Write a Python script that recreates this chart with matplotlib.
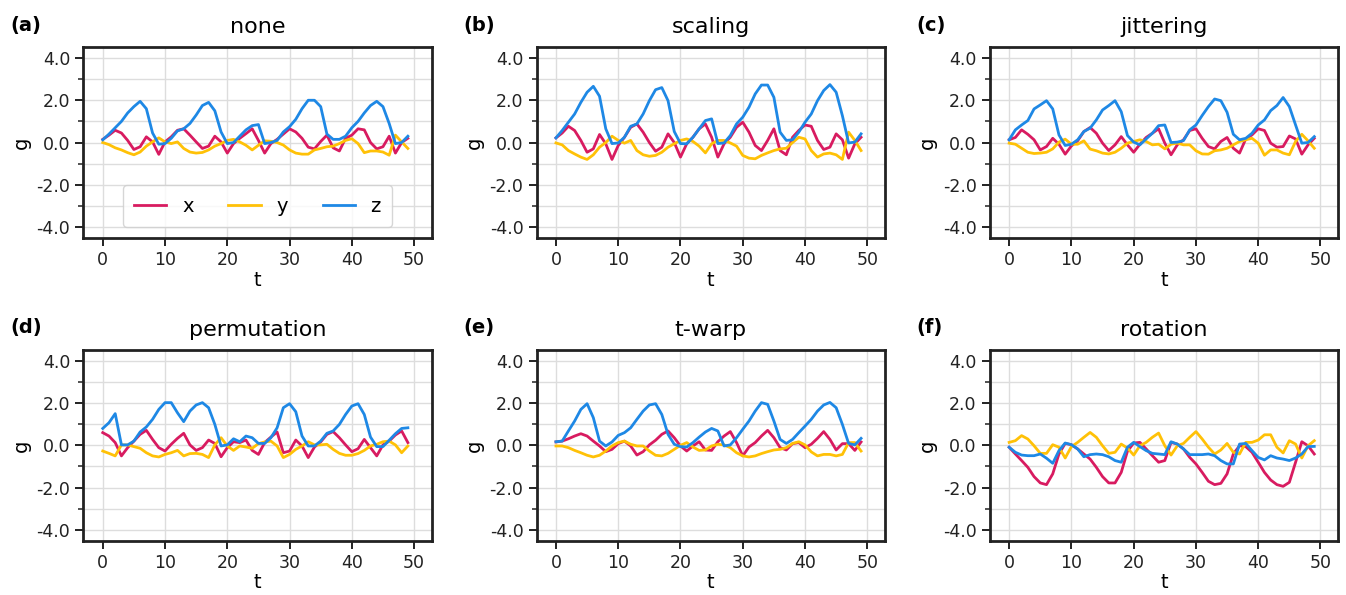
import numpy as np
import matplotlib
matplotlib.use("Agg")
import matplotlib.pyplot as plt
from matplotlib.ticker import MultipleLocator, FormatStrFormatter

t = np.arange(50)

titles = ["none", "scaling", "jittering", "permutation", "t-warp", "rotation"]
letters = ["(a)", "(b)", "(c)", "(d)", "(e)", "(f)"]

# (a) none
none_x = [0.15, 0.35, 0.58, 0.45, 0.1, -0.33, -0.2, 0.27, 0.03, -0.56, 0.03, 0.27, 0.58, 0.65, 0.35, 0.03, -0.28, -0.17, 0.3, 0.03,
          -0.5, -0.05, 0.2, 0.42, 0.65, 0.1, -0.5, -0.05, 0.15, 0.4, 0.65, 0.5, 0.2, -0.22, -0.3, 0.05, 0.35, -0.25, -0.4, 0.2,
          0.35, 0.65, 0.6, 0.0, -0.3, -0.2, 0.3, -0.5, 0.0, 0.2]
none_y = [0.0, -0.1, -0.25, -0.35, -0.48, -0.58, -0.45, -0.17, 0.03, 0.22, 0.03, -0.05, 0.03, -0.28, -0.45, -0.5, -0.47, -0.35, -0.17, -0.05,
          0.1, 0.15, 0.03, -0.13, -0.35, -0.13, 0.08, 0.06, 0.0, -0.12, -0.35, -0.5, -0.55, -0.55, -0.35, -0.28, -0.2, -0.17, -0.05, 0.1,
          0.18, -0.05, -0.48, -0.4, -0.4, -0.45, -0.6, 0.35, 0.03, -0.28]
none_z = [0.13, 0.4, 0.7, 1.0, 1.4, 1.7, 1.95, 1.6, 0.45, -0.08, -0.05, 0.2, 0.55, 0.65, 0.9, 1.3, 1.75, 1.9, 1.5, 0.5,
          -0.05, 0.0, 0.3, 0.6, 0.8, 0.85, -0.05, 0.0, 0.1, 0.5, 0.75, 1.1, 1.6, 2.0, 2.0, 1.7, 0.4, 0.15, 0.15, 0.3,
          0.7, 1.0, 1.4, 1.75, 1.95, 1.7, 0.9, -0.05, 0.0, 0.3]

# (b) scaling
scal_x = [0.22, 0.45, 0.77, 0.57, 0.1, -0.46, -0.3, 0.38, -0.06, -0.8, -0.14, 0.25, 0.72, 0.88, 0.49, 0.0, -0.41, -0.22, 0.41, 0.0,
          -0.69, -0.06, 0.25, 0.65, 0.88, 0.25, -0.69, -0.06, 0.25, 0.72, 0.96, 0.49, -0.14, -0.38, 0.1, 0.65, -0.38, -0.58, 0.25, 0.57,
          0.83, 0.77, 0.1, -0.33, -0.22, 0.41, 0.13, -0.74, -0.06, 0.25]
scal_y = [-0.02, -0.11, -0.38, -0.54, -0.69, -0.8, -0.58, -0.22, 0.0, 0.3, 0.1, -0.03, 0.1, -0.38, -0.58, -0.65, -0.61, -0.46, -0.22, -0.06,
          0.1, 0.17, 0.05, -0.17, -0.49, -0.06, 0.1, 0.1, -0.02, -0.17, -0.61, -0.74, -0.77, -0.61, -0.49, -0.38, -0.3, -0.27, 0.0, 0.25,
          0.17, -0.38, -0.69, -0.54, -0.5, -0.58, -0.8, 0.49, 0.1, -0.38]
scal_z = [0.22, 0.57, 0.96, 1.35, 1.9, 2.38, 2.66, 2.19, 0.65, -0.05, -0.02, 0.25, 0.77, 0.88, 1.35, 1.98, 2.5, 2.6, 1.98, 0.52,
          -0.05, -0.06, 0.25, 0.65, 1.04, 1.12, -0.05, -0.02, 0.33, 0.88, 1.2, 1.67, 2.3, 2.72, 2.72, 2.14, 0.49, 0.1, 0.13, 0.49,
          0.96, 1.35, 1.98, 2.46, 2.74, 2.38, 1.27, -0.02, 0.02, 0.41]

# (c) jittering
jit_x = [0.13, 0.24, 0.6, 0.39, 0.13, -0.35, -0.19, 0.2, -0.08, -0.55, -0.16, 0.08, 0.52, 0.71, 0.44, -0.03, -0.38, -0.11, 0.28, -0.11,
         -0.46, -0.08, 0.24, 0.44, 0.65, -0.03, -0.58, -0.11, 0.13, 0.57, 0.65, 0.2, -0.19, -0.3, 0.05, 0.24, -0.27, -0.5, 0.17, 0.36,
         0.65, 0.57, -0.03, -0.22, -0.19, 0.31, 0.17, -0.55, -0.11, 0.2]
jit_y = [-0.03, -0.08, -0.27, -0.46, -0.52, -0.5, -0.46, -0.3, 0.02, 0.16, -0.08, -0.08, 0.08, -0.31, -0.39, -0.5, -0.54, -0.46, -0.27, -0.03,
         0.05, 0.13, 0.05, -0.11, -0.08, -0.3, -0.08, -0.03, -0.11, -0.11, -0.39, -0.54, -0.55, -0.39, -0.35, -0.27, -0.11, 0.05, 0.13, 0.2,
         -0.03, -0.6, -0.35, -0.35, -0.5, -0.58, 0.05, 0.39, 0.08, -0.27]
jit_z = [0.13, 0.6, 0.83, 1.04, 1.59, 1.78, 1.98, 1.59, 0.36, -0.14, -0.08, 0.13, 0.52, 0.68, 1.07, 1.54, 1.75, 1.98, 1.46, 0.33,
         0.02, -0.11, 0.17, 0.44, 0.8, 0.83, 0.0, 0.02, 0.09, 0.6, 0.83, 1.28, 1.7, 2.06, 1.98, 1.43, 0.39, 0.13, 0.2, 0.44,
         0.83, 1.07, 1.51, 1.75, 2.13, 1.7, 0.83, -0.03, 0.0, 0.28]

# (d) permutation
perm_x = [0.6, 0.44, 0.13, -0.5, -0.11, 0.2, 0.52, 0.71, 0.28, -0.11, -0.27, 0.05, 0.33, 0.57, 0.02, -0.24, -0.11, 0.25, 0.09, -0.54,
          -0.11, 0.17, 0.13, 0.25, -0.24, -0.43, 0.13, 0.39, 0.63, -0.35, -0.27, 0.25, -0.03, -0.58, -0.08, 0.16, 0.52, 0.65, 0.36, 0.02,
          -0.3, -0.16, 0.28, -0.11, -0.5, 0.02, 0.2, 0.49, 0.68, 0.13]
perm_y = [-0.27, -0.38, -0.5, 0.02, 0.02, -0.06, -0.14, -0.35, -0.5, -0.55, -0.43, -0.35, -0.24, -0.5, -0.39, -0.38, -0.43, -0.58, 0.02, 0.36,
          -0.03, -0.24, -0.03, -0.08, -0.14, 0.08, 0.16, 0.2, -0.03, -0.58, -0.43, -0.19, -0.03, 0.17, 0.02, 0.02, 0.05, -0.19, -0.38, -0.47,
          -0.47, -0.39, -0.24, -0.03, 0.05, 0.17, 0.2, 0.02, -0.35, -0.03]
perm_z = [0.8, 1.07, 1.5, 0.02, 0.02, 0.2, 0.63, 0.87, 1.23, 1.7, 2.02, 2.02, 1.54, 1.12, 1.62, 1.91, 2.02, 1.78, 0.99, -0.03,
          0.02, 0.31, 0.17, 0.44, 0.36, 0.09, 0.09, 0.36, 0.83, 1.78, 1.97, 1.59, 0.44, -0.03, -0.03, 0.2, 0.57, 0.68, 0.99, 1.46,
          1.86, 1.97, 1.46, 0.39, -0.06, -0.06, 0.24, 0.55, 0.8, 0.83]

# (e) t-warp
warp_x = [0.16, 0.2, 0.31, 0.44, 0.55, 0.44, 0.2, -0.03, -0.3, -0.19, 0.08, 0.2, -0.03, -0.46, -0.3, 0.02, 0.24, 0.52, 0.68, 0.36,
          -0.03, -0.27, -0.03, 0.17, -0.22, -0.24, 0.17, 0.44, 0.65, 0.13, -0.5, -0.08, 0.13, 0.44, 0.71, 0.36, -0.11, -0.22, 0.08, 0.13,
          -0.11, 0.05, 0.33, 0.65, 0.28, -0.22, 0.08, 0.08, -0.24, 0.16]
warp_y = [-0.03, -0.03, -0.11, -0.24, -0.35, -0.47, -0.55, -0.47, -0.27, -0.03, 0.13, 0.2, 0.05, -0.03, -0.03, -0.27, -0.47, -0.5, -0.38, -0.19,
          0.0, 0.13, -0.08, -0.24, -0.22, -0.03, 0.05, 0.02, -0.11, -0.35, -0.5, -0.55, -0.5, -0.39, -0.3, -0.22, -0.19, -0.11, 0.09, 0.17,
          0.02, -0.31, -0.5, -0.43, -0.43, -0.5, -0.43, 0.13, 0.13, -0.27]
warp_z = [0.17, 0.2, 0.68, 1.15, 1.7, 1.97, 1.31, 0.2, -0.03, 0.16, 0.47, 0.6, 0.83, 1.23, 1.62, 1.91, 1.97, 1.46, 0.52, 0.05,
          -0.06, -0.08, 0.13, 0.39, 0.63, 0.8, 0.68, -0.03, 0.02, 0.36, 0.76, 1.15, 1.62, 2.02, 1.94, 1.15, 0.28, 0.09, 0.28, 0.6,
          0.91, 1.23, 1.62, 1.91, 2.03, 1.78, 0.99, 0.09, 0.02, 0.33]

# (f) rotation
rot_x = [-0.09, -0.41, -0.72, -1.04, -1.48, -1.78, -1.86, -1.35, -0.41, 0.09, 0.03, -0.17, -0.41, -0.65, -1.04, -1.48, -1.78, -1.78, -1.28, -0.28,
         0.11, 0.14, -0.17, -0.49, -0.8, -0.72, 0.14, 0.06, -0.17, -0.57, -0.88, -1.28, -1.7, -1.86, -1.8, -1.35, -0.41, -0.02, -0.06, -0.33,
         -0.8, -1.28, -1.64, -1.86, -1.94, -1.75, -0.8, 0.17, -0.02, -0.41]
rot_y = [0.14, 0.22, 0.46, 0.3, -0.02, -0.38, -0.38, 0.03, -0.09, -0.6, -0.06, 0.14, 0.38, 0.61, 0.38, -0.02, -0.38, -0.33, 0.06, -0.13,
         -0.46, -0.02, 0.14, 0.38, 0.58, -0.02, -0.46, -0.02, 0.09, 0.38, 0.65, 0.3, -0.09, -0.41, -0.22, 0.09, -0.33, -0.41, 0.14, 0.14,
         0.25, 0.5, 0.5, -0.09, -0.36, 0.22, 0.06, -0.6, -0.02, 0.22]
rot_z = [-0.09, -0.33, -0.46, -0.49, -0.49, -0.41, -0.61, -0.85, -0.25, 0.11, 0.03, -0.17, -0.54, -0.44, -0.41, -0.44, -0.54, -0.72, -0.8, -0.09,
         0.14, -0.06, -0.25, -0.38, -0.41, -0.44, 0.17, 0.06, -0.17, -0.44, -0.44, -0.44, -0.41, -0.49, -0.72, -0.88, -0.88, 0.06, 0.09, -0.25,
         -0.57, -0.69, -0.49, -0.6, -0.65, -0.72, -0.6, -0.41, -0.06, -0.05]

series = [
    (none_x, none_y, none_z),
    (scal_x, scal_y, scal_z),
    (jit_x, jit_y, jit_z),
    (perm_x, perm_y, perm_z),
    (warp_x, warp_y, warp_z),
    (rot_x, rot_y, rot_z),
]

colors = ["#D81B60", "#FFC107", "#1E88E5"]
names = ["x", "y", "z"]

plt.rcParams['font.family'] = ['DejaVu Sans']
fig, axes = plt.subplots(2, 3, figsize=(13.46, 5.95), dpi=100)
fig.subplots_adjust(left=0.062, right=0.994, top=0.921, bottom=0.091, wspace=0.302, hspace=0.585)

for i, ax in enumerate(axes.flat):
    for vals, c, n in zip(series[i], colors, names):
        ax.plot(t, vals, color=c, lw=2.0, label=n)
    ax.set_xlim(-3.1, 52.8)
    ax.set_ylim(-4.52, 4.52)
    ax.xaxis.set_major_locator(MultipleLocator(10))
    ax.yaxis.set_major_locator(MultipleLocator(2))
    ax.yaxis.set_minor_locator(MultipleLocator(1))
    ax.yaxis.set_major_formatter(FormatStrFormatter('%.1f'))
    ax.grid(True, which='both', color='#dddddd', lw=1.0)
    ax.set_axisbelow(True)
    for sp in ax.spines.values():
        sp.set_linewidth(2.0)
        sp.set_color('#222222')
    ax.tick_params(which='major', length=6, width=1.4, labelsize=12.5, colors='#222222')
    ax.tick_params(which='minor', length=3.5, width=1.1, colors='#222222')
    ax.set_xlabel("t", fontsize=14, labelpad=1)
    ax.set_ylabel("g", fontsize=14, labelpad=4)
    ax.set_title(titles[i], fontsize=16, pad=10)
    ax.text(-0.21, 1.115, letters[i], transform=ax.transAxes, fontsize=14,
            fontweight='bold', ha='left', va='center')

axes[0, 0].legend(loc='lower center', ncol=3, fontsize=14, handlelength=1.65,
                  handletextpad=0.8, columnspacing=1.8, borderpad=0.6,
                  bbox_to_anchor=(0.5, 0.005), fancybox=True, framealpha=0.8)

fig.savefig("out.png", dpi=100)
